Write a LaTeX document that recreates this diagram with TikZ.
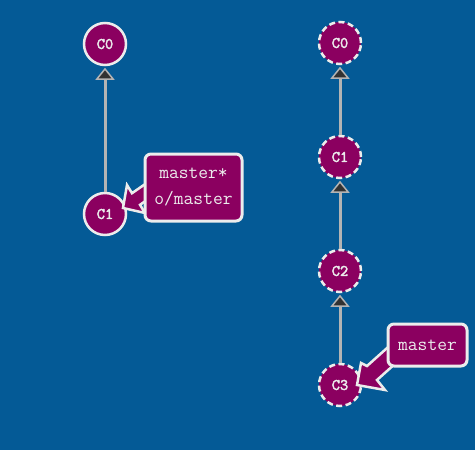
\documentclass[tikz,border=0pt]{standalone}
\usepackage{fontspec}
\setmonofont[AutoFakeBold=2.5]{Latin Modern Mono}
\usetikzlibrary{arrows.meta}
\definecolor{bg}{RGB}{4,90,150}
\definecolor{cpurple}{RGB}{139,0,96}
\definecolor{clight}{RGB}{236,236,236}
\definecolor{cedge}{RGB}{180,180,180}
\definecolor{carrow}{RGB}{50,50,50}
\tikzset{
  commit/.style={circle, fill=cpurple, draw=clight, line width=2.5pt, minimum size=42pt, inner sep=0pt,
    text=clight, font=\ttfamily\bfseries\fontsize{16}{16}\selectfont},
  ghost/.style={commit, dash pattern=on 6pt off 3.5pt},
  edge/.style={draw=cedge, line width=3pt, -{Triangle[length=12pt,width=19pt,fill=carrow,line width=1.5pt]}, shorten >=1.5pt},
  pointer/.style={fill=cpurple, draw=clight, line width=2.5pt, line join=miter},
  labelbox/.style={rectangle, rounded corners=6pt, fill=cpurple, draw=clight, line width=3pt, inner sep=0pt,
    text=clight, font=\ttfamily\mdseries\fontsize{19}{26}\selectfont, align=center},
}
\begin{document}
\begin{tikzpicture}[x=1pt,y=-1pt]
\fill[bg] (0,0) rectangle (475,450);
\useasboundingbox (0,0) rectangle (475,450);
% left
\node[commit] (l0) at (105,44) {C0};
\node[commit] (l1) at (105,214) {C1};
\draw[edge] (l1) -- (l0);
\draw[pointer] (148.4,181.8) -- (132,193.2) -- (127,185) -- (123,208) -- (145,213) -- (140,204.8) -- (156.4,193.4) -- cycle;
\node[labelbox, minimum width=97pt, minimum height=67pt] (lb) at (193.5,187.5) {master*\\o/master};
% right
\node[ghost] (r0) at (340,43) {C0};
\node[ghost] (r1) at (340,157) {C1};
\node[ghost] (r2) at (340,271) {C2};
\node[ghost] (r3) at (340,385) {C3};
\draw[edge] (r1) -- (r0);
\draw[edge] (r2) -- (r1);
\draw[edge] (r3) -- (r2);
\draw[pointer] (393,342.7) -- (367,366) -- (361,363) -- (357,385) -- (385,390) -- (377,380) -- (403,356.7) -- cycle;
\node[labelbox, minimum width=79pt, minimum height=42pt] (rb) at (427.5,345) {master};
\end{tikzpicture}
\end{document}
